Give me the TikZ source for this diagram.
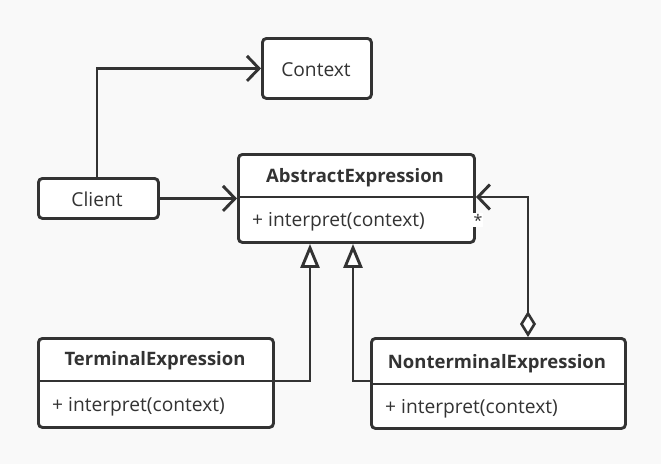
\documentclass[tikz,border=0pt]{standalone}
\usepackage{fontspec}
\setmainfont{Open Sans}
\usetikzlibrary{arrows.meta}
\definecolor{ink}{HTML}{333333}
\definecolor{bg}{HTML}{F9F9F9}
\tikzset{
  box/.style={draw=ink, line width=2.9pt, fill=white, rounded corners=4pt, inner sep=0pt},
  lbl/.style={font=\fontsize{19.2}{22}\selectfont, text=ink, inner sep=0pt},
  hdr/.style={font=\fontsize{18.5}{22}\selectfont\bfseries, text=ink, inner sep=0pt},
  conn/.style={draw=ink, line width=2.9pt},
  openarrow/.style={-{Straight Barb[length=12pt,width=25pt,line width=2.9pt]}},
  inherit/.style={-{Triangle[open,length=24pt,width=19pt,line width=2.9pt,fill=white]}},
  aggr/.style={{Diamond[open,length=26pt,width=16pt,line width=2.6pt,fill=white]}-{Straight Barb[length=12pt,width=25pt,line width=2.9pt]}},
}
\begin{document}
\begin{tikzpicture}[x=1pt,y=-1pt]
\fill[bg] (0,0) rectangle (661,464);
\useasboundingbox (0,0) rectangle (661,464);
\coordinate (cliTop) at (97,177);
\coordinate (terJ) at (310,381);
\coordinate (nonJ) at (353,381);
\coordinate (nonTop) at (528,337);
\coordinate (aggC) at (528,197);
% boxes
\node[box, minimum width=109pt, minimum height=60pt, anchor=north west] (ctx) at (261,37) {};
\node[lbl] (ctxT) at (316,70) {Context};
\node[box, minimum width=120pt, minimum height=40pt, anchor=north west] (cli) at (37,177) {};
\node[lbl] (cliT) at (97,199) {Client};
\node[box, minimum width=236pt, minimum height=88pt, anchor=north west] (abs) at (237,153) {};
\node[hdr] (absT) at (355,178) {AbstractExpression};
\node[lbl, anchor=west] (absM) at (252,222) {+ interpret(context)};
\node[box, minimum width=235pt, minimum height=89pt, anchor=north west] (ter) at (37,337) {};
\node[hdr] (terT) at (155,361) {TerminalExpression};
\node[lbl, anchor=west] (terM) at (52,407) {+ interpret(context)};
\node[box, minimum width=254pt, minimum height=90pt, anchor=north west] (non) at (370,337) {};
\node[hdr] (nonT) at (497,364) {NonterminalExpression};
\node[lbl, anchor=west] (nonM) at (385,409) {+ interpret(context)};
% dividers
\draw[conn] (abs.west |- 0,197) -- (abs.east |- 0,197);
\draw[conn] (ter.west |- 0,381) -- (ter.east |- 0,381);
\draw[conn] (non.west |- 0,384) -- (non.east |- 0,384);
% connectors
\draw[conn, openarrow] (cliTop) |- (ctx.west);
\draw[conn, openarrow] (cli.east) -- (cli.east -| abs.west);
\draw[conn, inherit] (ter.east |- terJ) -- (terJ) -- (terJ |- abs.south);
\draw[conn, inherit] (non.west |- nonJ) -- (nonJ) -- (nonJ |- abs.south);
\draw[conn, aggr] (nonTop) -- (aggC) -- (aggC -| abs.east);
\node[fill=white, inner sep=1pt, font=\fontsize{16}{16}\selectfont, text=ink] (star) at (478,220) {*};
\end{tikzpicture}
\end{document}
